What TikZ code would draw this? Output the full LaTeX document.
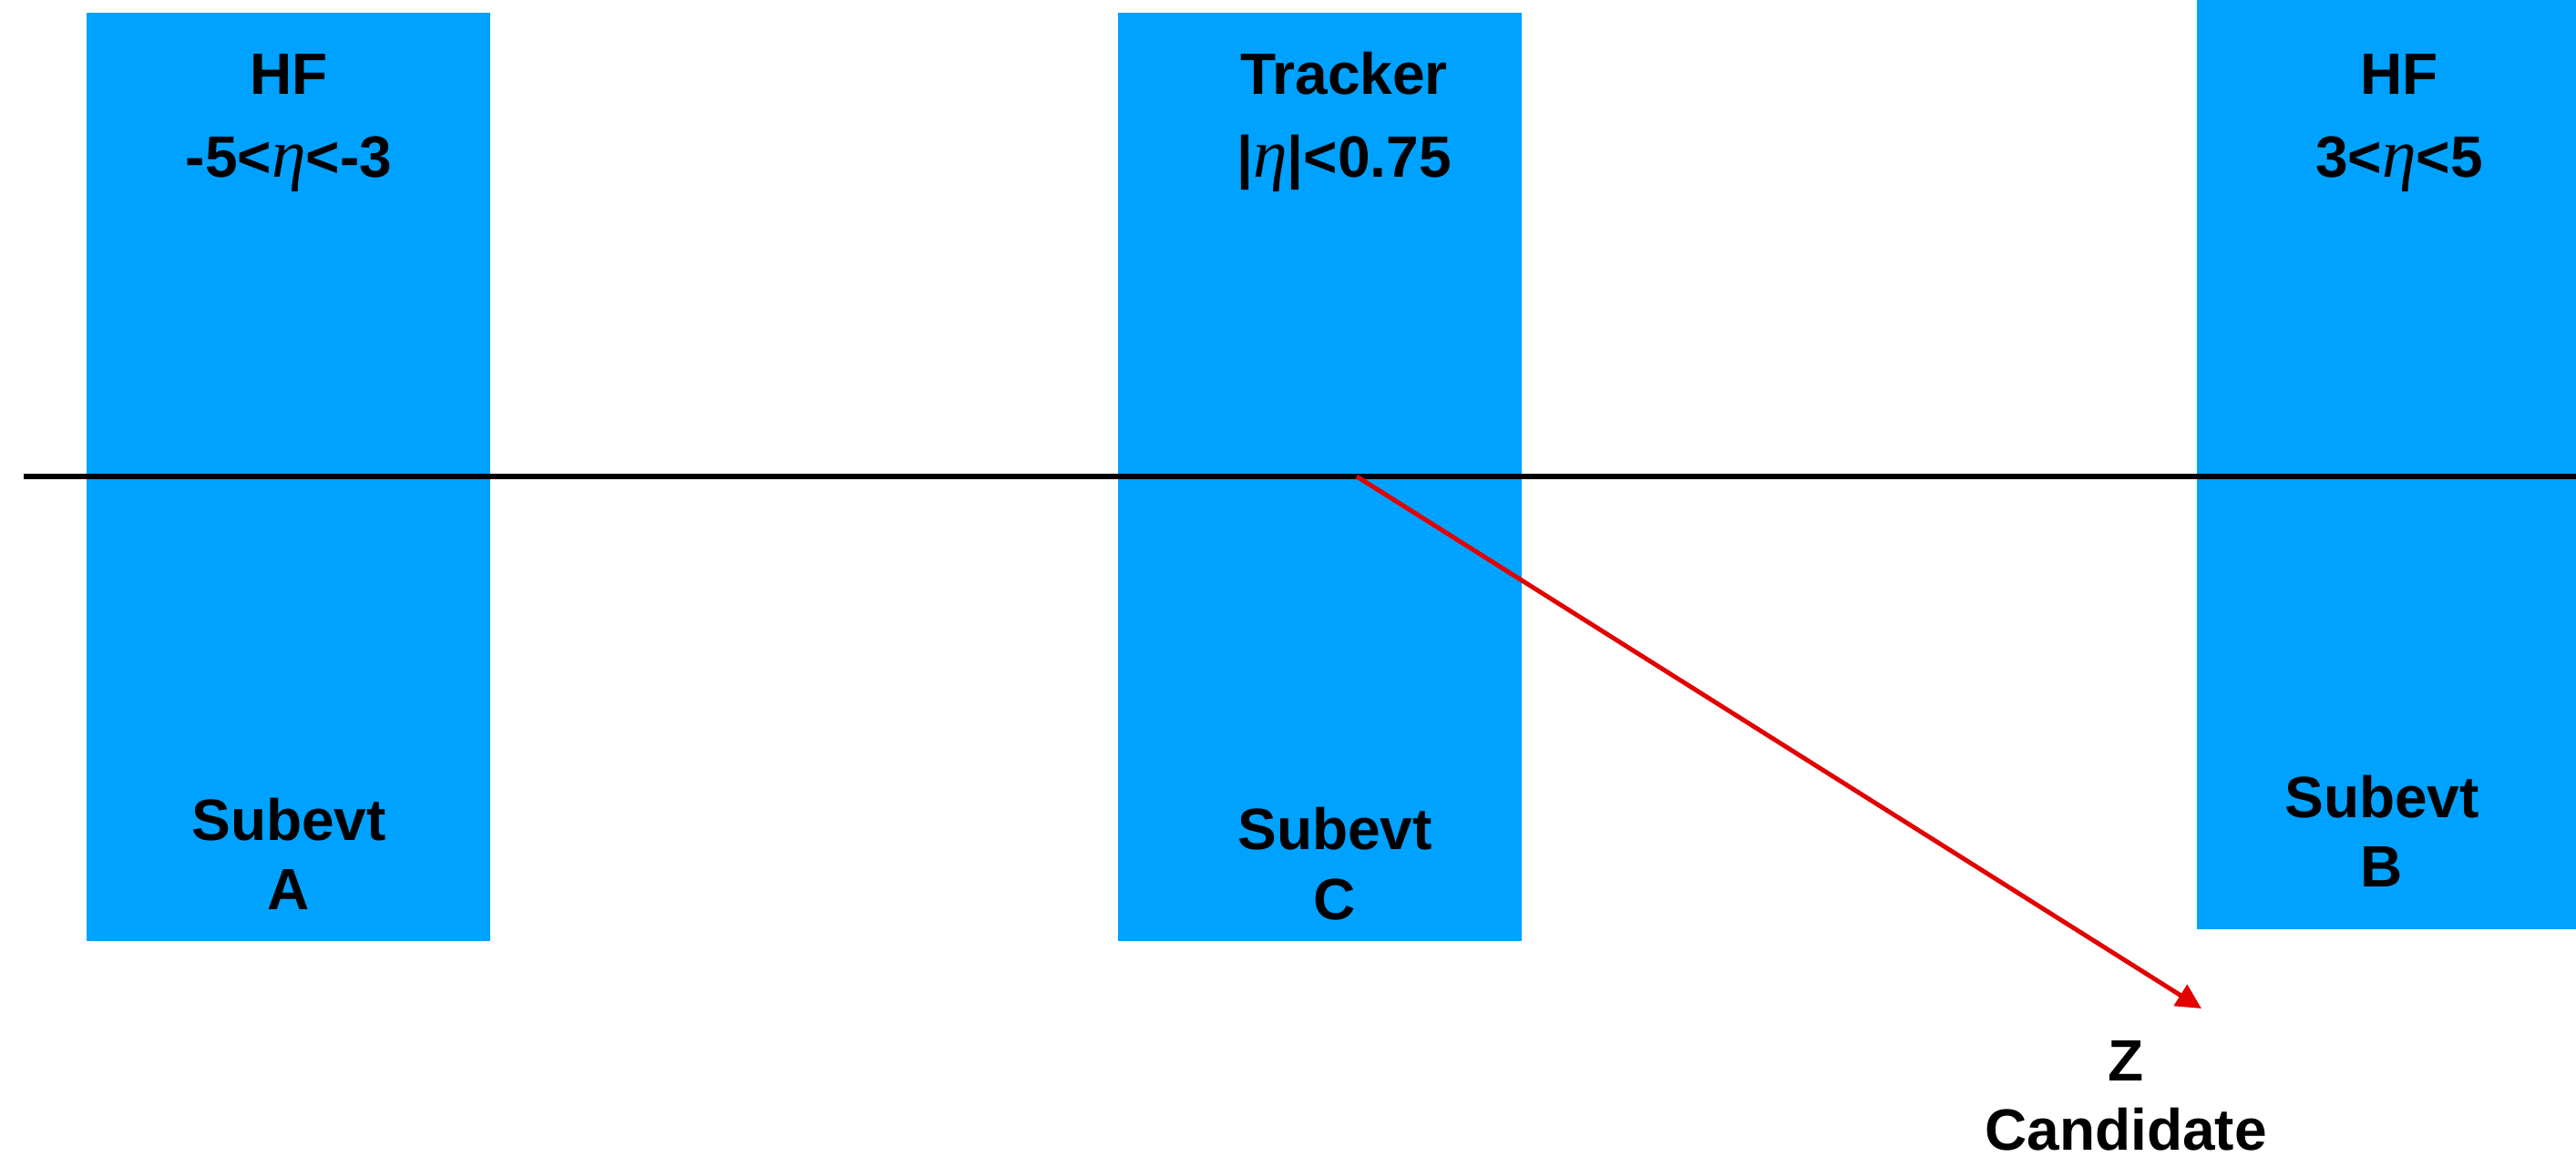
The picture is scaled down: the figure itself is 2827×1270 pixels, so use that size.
\documentclass[tikz,border=0pt]{standalone}
\usepackage{fontspec}
\setmainfont{Liberation Sans}
\newfontfamily\etafont{Liberation Serif}
\usetikzlibrary{arrows.meta}
\definecolor{boxblue}{RGB}{0,162,255}
\definecolor{zred}{RGB}{226,0,0}
\newcommand{\etaglyph}{{\etafont\mdseries\itshape\fontsize{21.5}{22}\selectfont η}}
\begin{document}
\begin{tikzpicture}[x=0.01cm,y=-0.01cm,
  panel/.style={fill=boxblue, draw=none, anchor=north west, inner sep=0pt, outer sep=0pt},
  lbl/.style={font=\fontsize{18.2}{20}\selectfont\bfseries, anchor=base, inner sep=0pt},
  axisline/.style={black, line width=1.56pt},
  zarrow/.style={zred, line width=1.4pt, -{Triangle[length=7.8pt,width=7.6pt]}}
]
\useasboundingbox (0,0) rectangle (2827,1270);
% detector panels
\node[panel, minimum width=4.43cm, minimum height=10.18cm] (boxA) at (95,14) {};
\node[panel, minimum width=4.43cm, minimum height=10.18cm] (boxC) at (1227,14) {};
\node[panel, minimum width=4.16cm, minimum height=10.19cm] (boxB) at (2411,0) {};
% top labels
\node[lbl] (hfA) at (317,104) {HF};
\node[lbl] (etaA) at (317,195) {-5<\etaglyph<-3};
\node[lbl] (trk) at (1475,104) {Tracker};
\node[lbl] (etaC) at (1475,195) {|\etaglyph|<0.75};
\node[lbl] (hfB) at (2633,104) {HF};
\node[lbl] (etaB) at (2633,195) {3<\etaglyph<5};
% bottom labels
\node[lbl] (subA) at (317,922) {Subevt};
\node[lbl] (letA) at (317,998) {A};
\node[lbl] (subC) at (1465,932) {Subevt};
\node[lbl] (letC) at (1465,1009) {C};
\node[lbl] (subB) at (2614,897) {Subevt};
\node[lbl] (letB) at (2614,973) {B};
% Z candidate
\node[lbl] (zZ) at (2333,1186) {Z};
\node[lbl] (zCand) at (2333,1262) {Candidate};
% beam line
\coordinate (lineL) at (26,523);
\coordinate (lineR) at (2827,523);
\draw[axisline] (lineL) -- (lineR);
% Z direction
\coordinate (zorigin) at (1489,523);
\coordinate (ztip) at (2416,1107);
\draw[zarrow] (zorigin) -- (ztip);
\end{tikzpicture}
\end{document}
